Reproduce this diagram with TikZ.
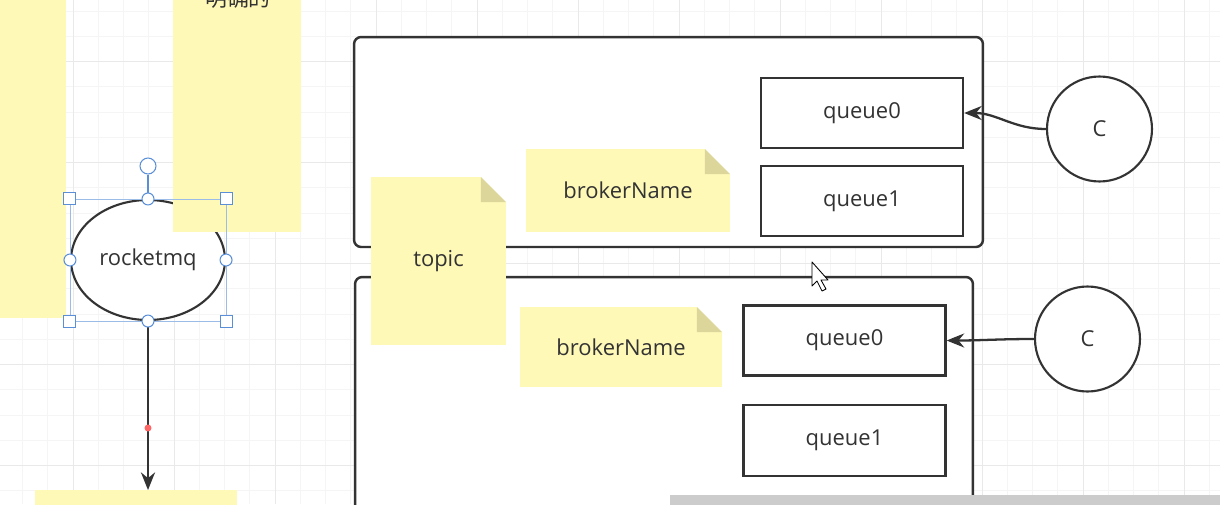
\documentclass[tikz,border=0pt]{standalone}
\usepackage{fontspec}
\setmainfont{Open Sans}
\newfontfamily\cjk{Noto Sans CJK SC}
\usetikzlibrary{shapes.geometric}
\usetikzlibrary{arrows.meta}

\definecolor{notefill}{HTML}{FFF9B8}
\definecolor{foldfill}{HTML}{DCD69B}
\definecolor{inkgray}{HTML}{333333}
\definecolor{selblue}{HTML}{5A8FD8}
\definecolor{gridminor}{HTML}{F5F5F5}
\definecolor{gridmajor}{HTML}{E9E9E9}
\newcommand\diagfont{\fontsize{12.5}{15}\selectfont}

\tikzset{
  plainnote/.style={fill=notefill, inner sep=0pt, text=inkgray, font=\diagfont},
  note/.style={plainnote,
    path picture={
      \fill[white] ([xshift=-0.5cm]path picture bounding box.north east) -- (path picture bounding box.north east) -- ([yshift=-0.5cm]path picture bounding box.north east) -- cycle;
      \fill[foldfill] ([xshift=-0.5cm]path picture bounding box.north east) -- ([xshift=-0.5cm,yshift=-0.5cm]path picture bounding box.north east) -- ([yshift=-0.5cm]path picture bounding box.north east) -- cycle;}},
  brokerbox/.style={draw=inkgray, fill=white, line width=1.4pt, rounded corners=4pt},
  queuebox/.style={draw=inkgray, fill=white, line width=1.3pt, minimum width=4.04cm, minimum height=1.4cm, inner sep=0pt, text=inkgray, font=\diagfont},
  consumer/.style={circle, draw=inkgray, fill=white, line width=1.2pt, minimum size=2.1cm, inner sep=0pt, text=inkgray, font=\diagfont},
  flow/.style={draw=inkgray, line width=1.3pt, -{Stealth[length=10pt,width=8pt]}},
  hcirc/.style={circle, draw=selblue, fill=white, line width=0.6pt, minimum size=0.24cm, inner sep=0pt},
  hsquare/.style={rectangle, draw=selblue, fill=white, line width=0.6pt, minimum size=0.24cm, inner sep=0pt}
}

\begin{document}
\begin{tikzpicture}[x=0.02cm,y=-0.02cm]
\useasboundingbox (0,0) rectangle (1220,504);
\clip (0,0) rectangle (1220,504);
\fill[white] (0,0) rectangle (1220,504);

% grid
\foreach \k in {-3,...,45} \draw[gridminor, line width=0.4pt] ({73+25.25*\k},0) -- ({73+25.25*\k},504);
\foreach \k in {-3,...,18} \draw[gridminor, line width=0.4pt] (0,{61.5+25.25*\k}) -- (1220,{61.5+25.25*\k});
\foreach \k in {-1,...,11} \draw[gridmajor, line width=0.5pt] ({73+101*\k},0) -- ({73+101*\k},504);
\foreach \k in {-1,...,4} \draw[gridmajor, line width=0.5pt] (0,{61.5+101*\k}) -- (1220,{61.5+101*\k});

% left side
\node[plainnote, minimum width=1.32cm, minimum height=7.16cm] (leftnote) at (33,139) {};
\coordinate (down) at (148,490);
\node[ellipse, draw=inkgray, fill=white, line width=1.2pt, minimum width=3.08cm, minimum height=2.4cm, inner sep=0pt, text=inkgray, font=\diagfont] (rocket) at (148,260) {rocketmq};
\draw[flow] (rocket.south) -- (down);
\fill[red!60!white] (148,428) circle (3.5);
\node[plainnote, minimum width=2.56cm, minimum height=5.44cm] (topnote) at (237,96) {};
\node[text=inkgray, font=\cjk\diagfont] (hint) at (238,-2) {明确的};
\node[plainnote, minimum width=4.04cm, minimum height=0.6cm, anchor=north west] (bottomnote) at (35,490) {};

% selection handles
\draw[selblue!60, line width=0.4pt] (rocket.north -| rocket.west) rectangle (rocket.south -| rocket.east);
\node[hcirc, minimum size=0.32cm] (rot) at (148,166) {};
\draw[selblue, line width=0.6pt] (rot) -- (rocket.north);
\foreach \a in {north,south,east,west} \node[hcirc] (h-\a) at (rocket.\a) {};
\foreach \v/\h in {north/west,north/east,south/west,south/east} \node[hsquare] (c-\v\h) at (rocket.\v -| rocket.\h) {};

% brokers
\node[brokerbox, minimum width=12.58cm, minimum height=4.2cm] (brokerA) at (668.5,142) {};
\node[brokerbox, minimum width=12.36cm, minimum height=5.66cm] (brokerB) at (664,418.5) {};

\node[queuebox] (qA0) at (862,113) {queue0};
\node[queuebox] (qA1) at (862,201) {queue1};
\node[queuebox] (qB0) at (844.5,340.5) {queue0};
\node[queuebox, minimum height=1.42cm] (qB1) at (844.5,440.5) {queue1};

\node[consumer] (cA) at (1099.5,129) {C};
\node[consumer] (cB) at (1087.5,339) {C};
\draw[flow] (cA.west) to[out=180,in=0] (qA0.east);
\draw[flow] (cB.west) to[out=180,in=0] (qB0.east);

\node[note, minimum width=4.08cm, minimum height=1.66cm] (brkA) at (628,190.5) {brokerName};
\node[note, minimum width=4.04cm, minimum height=1.6cm] (brkB) at (621,347) {brokerName};
\node[note, minimum width=2.7cm, minimum height=3.36cm] (topic) at (438.5,261) {topic};

% pointer and scrollbar
\draw[black, fill=white, line width=0.5pt, line join=round] (812,262) -- ++(0,24) -- ++(5,-5) -- ++(5,10) -- ++(4,-2) -- ++(-5,-9) -- ++(7,0) -- cycle;
\fill[gray!40] (670,495) rectangle (1220,510);
\end{tikzpicture}
\end{document}
